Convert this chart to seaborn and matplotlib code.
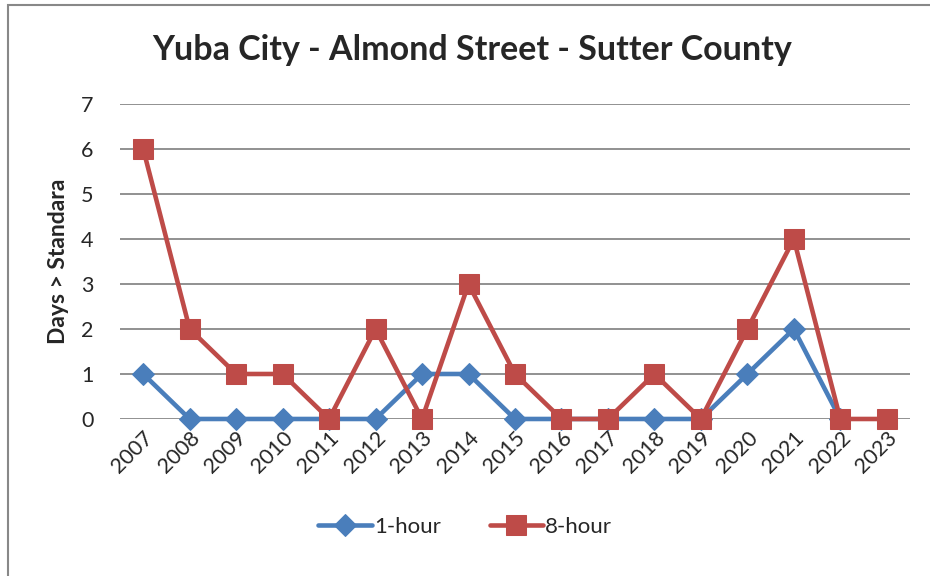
import pandas as pd
import numpy as np
import matplotlib.pyplot as plt
import seaborn as sns
from matplotlib.patches import Rectangle

years = list(range(2007, 2024))
one_hour = [1, 0, 0, 0, 0, 0, 1, 1, 0, 0, 0, 0, 0, 1, 2, 0, np.nan]
eight_hour = [6, 2, 1, 1, 0, 2, 0, 3, 1, 0, 0, 1, 0, 2, 4, 0, 0]

blue = "#4A7EBB"
red = "#BE4B48"

sns.set_style("white")
plt.rcParams["font.family"] = ["Lato", "DejaVu Sans"]

fig = plt.figure(figsize=(9.3, 5.76), dpi=100)
ax = fig.add_axes([0.129, 0.2726, 0.8495, 0.5468])

df1 = pd.DataFrame({"year": years, "days": one_hour})
df8 = pd.DataFrame({"year": years, "days": eight_hour})

sns.lineplot(data=df1, x="year", y="days", ax=ax, color=blue, lw=3.3,
             marker="D", markersize=11, markeredgecolor=blue, label="1-hour",
             clip_on=False, zorder=3)
sns.lineplot(data=df8, x="year", y="days", ax=ax, color=red, lw=3.3,
             marker="s", markersize=15, markeredgecolor=red, label="8-hour",
             clip_on=False, zorder=4)

ax.set_xlim(2006.5, 2023.5)
ax.set_ylim(0, 7)
ax.set_yticks(range(0, 8))
ax.set_xticks(years)
ax.set_xticklabels([str(y) for y in years], rotation=45, ha="right",
                   rotation_mode="anchor", fontsize=15.5)
ax.tick_params(axis="y", labelsize=15.5, length=7, color="#888888", width=1.3, pad=12)
ax.tick_params(axis="x", length=0, pad=6)
ax.yaxis.grid(True, color="#888888", lw=1.3)
ax.set_axisbelow(True)
for s in ax.spines.values():
    s.set_visible(False)

ax.set_xlabel("")
ax.set_ylabel("Days > Standara", fontsize=16.5, fontweight="bold", labelpad=9)
fig.text(472 / 930, 1 - 50 / 576, "Yuba City - Almond Street - Sutter County",
         fontsize=24.5, fontweight="bold", ha="center", va="center")

ax.legend(loc="center", bbox_to_anchor=(0.437, -0.343), ncol=2, frameon=False,
          fontsize=16, handlelength=2.4, columnspacing=2.2, handletextpad=0.1)

fig.patches.append(Rectangle((8 / 930, -0.2), 1.2, 1.2 - 5 / 576,
                             transform=fig.transFigure, fill=False,
                             edgecolor="#888888", lw=1.5))

fig.savefig("out.png", dpi=100)
